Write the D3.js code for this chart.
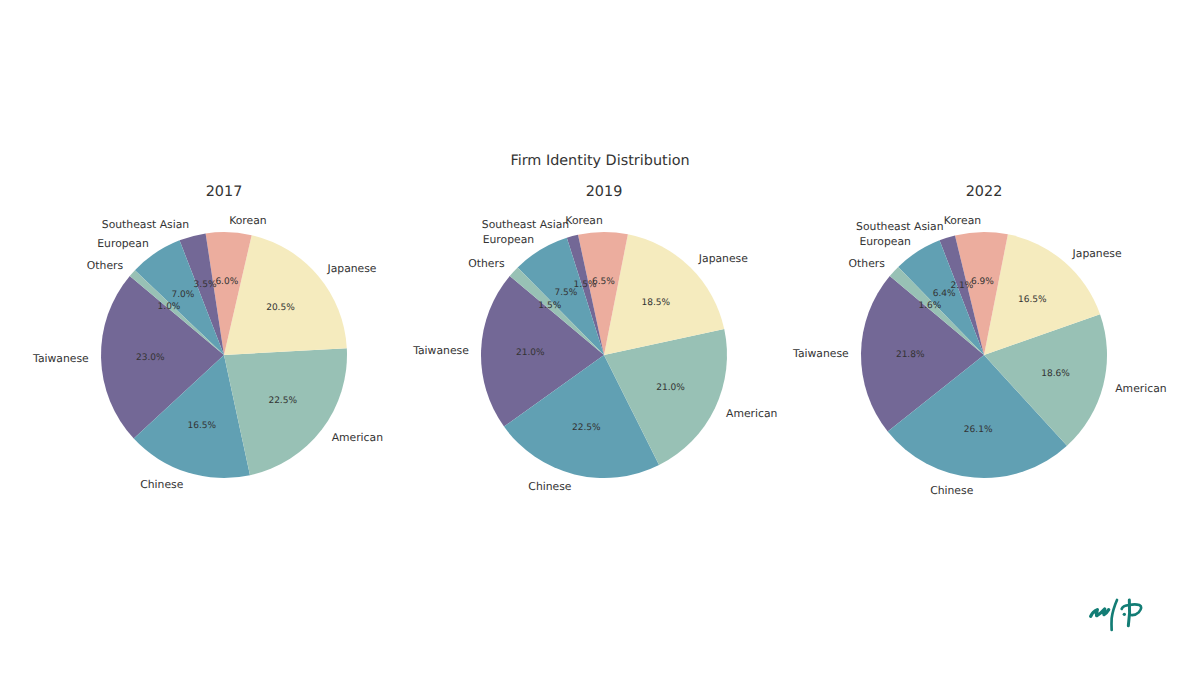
<!DOCTYPE html>
<html>
<head>
<meta charset="utf-8">
<script src="https://d3js.org/d3.v7.min.js"></script>
<style>
    html, body { margin: 0; padding: 0; background: white; }
    text { font-family: "DejaVu Sans", sans-serif; fill: #333333; text-rendering: geometricPrecision; }
</style>
</head>
<body>
<div id="vis"></div>
<script>
    var width = 1200
    var height = 675

    var categories = ["Taiwanese", "Chinese", "American", "Japanese", "Korean", "Southeast Asian", "European", "Others"]
    var years = ["2017", "2019", "2022"]
    var values2017 = [23.0, 16.5, 22.5, 20.5, 6.0, 3.5, 7.0, 1.0]
    var values2019 = [21.0, 22.5, 21.0, 18.5, 6.5, 1.5, 7.5, 1.5]
    var values2022 = [21.8, 26.1, 18.6, 16.5, 6.9, 2.1, 6.4, 1.6]
    var allValues = [values2017, values2019, values2022]

    var colors = ["#736896", "#61a0b3", "#98c1b5", "#f5ebbe", "#ecad9e"]

    var radius = 123
    var centerY = 355
    var centerX = d3.scalePoint().domain(years).range([224, 984])

    var svg = d3.select("#vis")
    .append("svg")
    .attr("width", width)
    .attr("height", height)
    .style("display", "block")

    svg.append("text")
    .attr("x", 600)
    .attr("y", 161)
    .attr("text-anchor", "middle")
    .attr("dominant-baseline", "central")
    .style("font-size", "14.4px")
    .text("Firm Identity Distribution")

    // wedges go counterclockwise from 140 degrees, like the original
    var pie = d3.pie()
    .sort(null)
    .startAngle(-50 * Math.PI / 180)
    .endAngle(-410 * Math.PI / 180)

    var arc = d3.arc().innerRadius(0).outerRadius(radius)
    var labelArc = d3.arc().innerRadius(radius * 1.1).outerRadius(radius * 1.1)
    var pctArc = d3.arc().innerRadius(radius * 0.6).outerRadius(radius * 0.6)

    years.forEach(function (year, i) {
        var g = svg.append("g")
        .attr("transform", "translate(" + centerX(year) + ", " + centerY + ")")

        g.append("text")
        .attr("x", 0)
        .attr("y", -163)
        .attr("text-anchor", "middle")
        .attr("dominant-baseline", "central")
        .style("font-size", "14.4px")
        .text(year)

        var slices = pie(allValues[i])

        g.selectAll("path")
        .data(slices)
        .enter()
        .append("path")
        .attr("d", arc)
        .attr("fill", function (d, j) { return colors[j % colors.length] })

        g.selectAll(".label")
        .data(slices)
        .enter()
        .append("text")
        .attr("class", "label")
        .attr("transform", function (d) { return "translate(" + labelArc.centroid(d) + ")" })
        .attr("text-anchor", function (d) { return labelArc.centroid(d)[0] > 0 ? "start" : "end" })
        .attr("dominant-baseline", "central")
        .attr("dy", 0.5)
        .style("font-size", "10.8px")
        .text(function (d, j) { return categories[j] })

        g.selectAll(".pct")
        .data(slices)
        .enter()
        .append("text")
        .attr("class", "pct")
        .attr("transform", function (d) { return "translate(" + pctArc.centroid(d) + ")" })
        .attr("text-anchor", "middle")
        .attr("dominant-baseline", "central")
        .attr("dy", 1)
        .style("font-size", "9px")
        .text(function (d) { return d.value.toFixed(1) + "%" })
    })

    // Logo in the bottom right corner
    var logo = svg.append("g")
    .attr("transform", "translate(1070, 585) scale(0.3333)")
    .attr("fill", "none")
    .attr("stroke", "#137d75")
    .attr("stroke-linecap", "round")
    .attr("stroke-linejoin", "round")

    logo.append("path").attr("stroke-width", 10)
    .attr("d", "M62,94 Q68,80 82,74 Q78,84 80,92 Q92,86 104,72 Q100,82 102,89 Q110,84 116,74")
    logo.append("path").attr("stroke-width", 8)
    .attr("d", "M141,45 Q128,75 125,100 Q124,118 125,135")
    logo.append("path").attr("stroke-width", 9)
    .attr("d", "M178,45 Q181,85 175,122")
    logo.append("path").attr("stroke-width", 8)
    .attr("d", "M155,72 Q158,62 178,60 Q195,56 208,60 Q220,66 206,82 Q196,92 182,90")
    logo.append("circle").attr("cx", 163).attr("cy", 88).attr("r", 5).attr("fill", "#137d75").attr("stroke", "none")
</script>
</body>
</html>
